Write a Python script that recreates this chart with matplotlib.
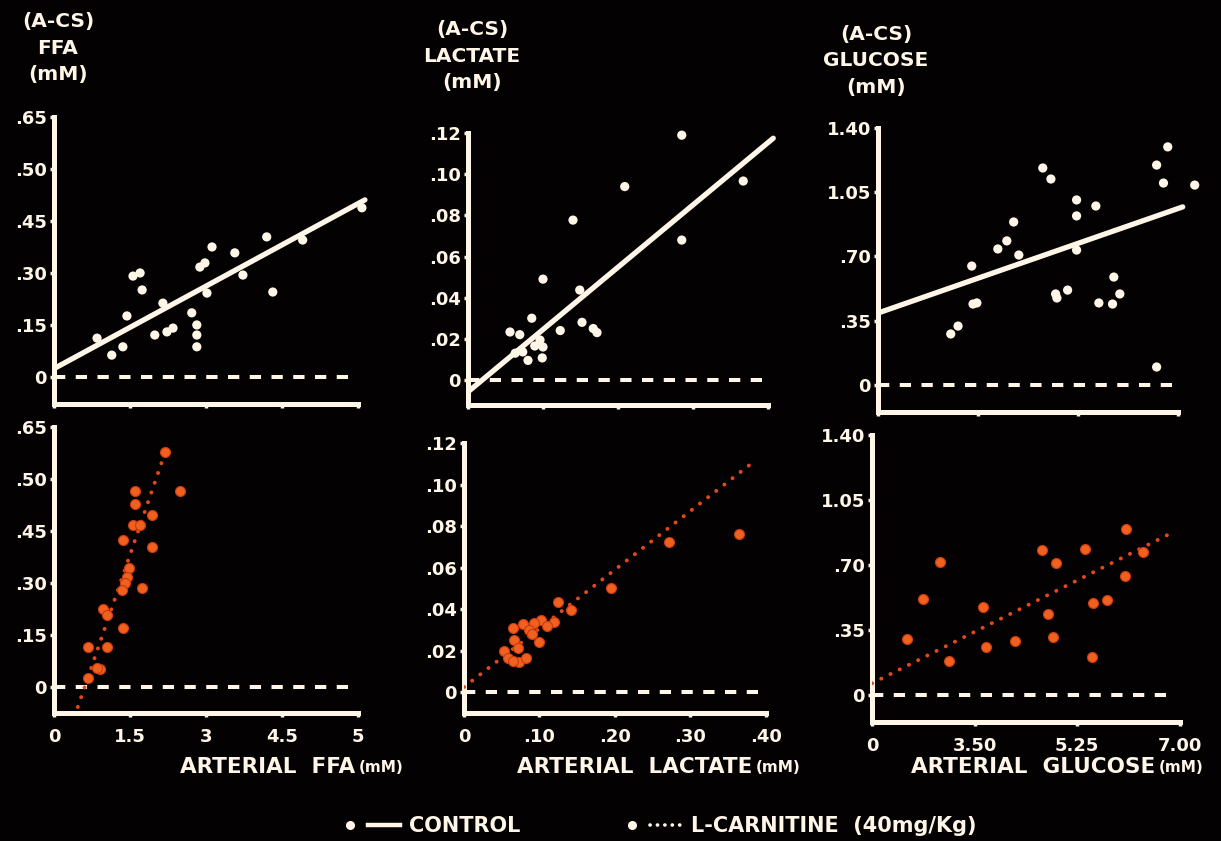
import matplotlib
matplotlib.use('Agg')
import numpy as np
import matplotlib.pyplot as plt
from matplotlib.lines import Line2D
from matplotlib.legend_handler import HandlerTuple

BG = '#030101'
CREAM = '#fff6e8'
ORANGE = '#f0601e'
ORANGE_LINE = '#e4481a'

plt.rcParams['font.family'] = ['DejaVu Sans']
plt.rcParams['font.weight'] = 'bold'

# ---- data (x and y, in axis position units) ----
ffa_ctrl_x = [0.85, 1.14, 1.36, 1.44, 1.56, 1.70, 1.74, 1.99, 2.23, 2.35, 2.15, 2.72, 2.82,
              2.82, 2.82, 2.88, 2.98, 3.02, 3.12, 3.57, 3.73, 4.20, 4.32, 4.91, 6.08]
ffa_ctrl_y = [0.112, 0.063, 0.087, 0.176, 0.291, 0.300, 0.251, 0.121, 0.130, 0.141, 0.213, 0.185, 0.150,
              0.121, 0.087, 0.317, 0.329, 0.242, 0.375, 0.358, 0.294, 0.404, 0.245, 0.395, 0.488]
ffa_carn_x = [2.19, 2.49, 1.60, 1.60, 1.93, 1.56, 1.70, 1.36, 1.93, 1.48, 1.44, 1.40, 1.34,
              1.74, 0.97, 1.05, 1.36, 0.67, 1.05, 0.91, 0.85, 0.67]
ffa_carn_y = [0.678, 0.565, 0.565, 0.528, 0.496, 0.467, 0.467, 0.424, 0.404, 0.343, 0.317, 0.300, 0.280,
              0.286, 0.225, 0.208, 0.170, 0.115, 0.115, 0.052, 0.055, 0.026]

lac_ctrl_x = [0.285, 0.209, 0.367, 0.140, 0.285, 0.100, 0.149, 0.085, 0.056, 0.069, 0.123, 0.152,
              0.167, 0.172, 0.096, 0.100, 0.089, 0.080, 0.099, 0.063, 0.073]
lac_ctrl_y = [0.119, 0.094, 0.0967, 0.0777, 0.068, 0.049, 0.0437, 0.030, 0.0233, 0.022, 0.024, 0.028,
              0.025, 0.023, 0.0194, 0.016, 0.0165, 0.0095, 0.0107, 0.013, 0.0136]
lac_carn_x = [0.364, 0.272, 0.195, 0.124, 0.142, 0.119, 0.102, 0.093, 0.065, 0.078, 0.086, 0.066,
              0.099, 0.053, 0.072, 0.058, 0.073, 0.082, 0.065, 0.110, 0.090]
lac_carn_y = [0.076, 0.0723, 0.050, 0.0434, 0.0395, 0.0337, 0.0347, 0.0333, 0.031, 0.033, 0.030, 0.025,
              0.024, 0.020, 0.021, 0.0164, 0.0145, 0.0164, 0.015, 0.032, 0.028]

glu_ctrl_x = [6.77, 6.51, 6.67, 7.40, 3.85, 4.04, 4.64, 5.09, 4.64, 3.17, 3.01, 2.80, 3.29, 4.64,
              2.19, 2.31, 2.22, 1.87, 1.70, 4.15, 4.18, 4.43, 5.51, 5.65, 5.16, 5.48, 6.51]
glu_ctrl_y = [1.297, 1.198, 1.100, 1.089, 1.182, 1.122, 1.008, 0.975, 0.921, 0.888, 0.785, 0.741, 0.708, 0.735,
              0.648, 0.447, 0.441, 0.321, 0.278, 0.496, 0.474, 0.517, 0.588, 0.496, 0.447, 0.441, 0.098]
glu_carn_x = [0.80, 1.16, 1.55, 1.75, 2.52, 2.59, 3.25, 3.86, 4.18, 4.00, 4.11, 4.84, 5.02, 5.34,
              5.00, 5.77, 5.75, 6.16]
glu_carn_y = [0.302, 0.517, 0.716, 0.183, 0.474, 0.258, 0.291, 0.781, 0.711, 0.436, 0.312, 0.786, 0.495, 0.511,
              0.205, 0.894, 0.641, 0.770]

# regression lines: (intercept, slope, x start, x end)
ctrl_fits = [(0.024, 0.0793, 0.0, 6.14), (-0.0058, 0.303, 0.0, 0.407), (0.392, 0.0812, 0.0, 7.12)]
carn_fits = [(-0.258, 0.426, 0.47, 2.23), (0.0024, 0.283, 0.0, 0.384), (0.063, 0.1187, 0.0, 6.82)]

# ticks
x_ticks = [[0, 1.5, 3, 4.5, 6], [0, 0.1, 0.2, 0.3, 0.4], [0, 7 / 3, 14 / 3, 7]]
x_labels = [['0', '1.5', '3', '4.5', '5'], ['0', '.10', '.20', '.30', '.40'], ['0', '3.50', '5.25', '7.00']]
y_ticks = [[0, 0.15, 0.30, 0.45, 0.60, 0.75], [0, 0.02, 0.04, 0.06, 0.08, 0.10, 0.12], [0, 0.35, 0.70, 1.05, 1.40]]
y_labels = [['0', '.15', '.30', '.45', '.50', '.65'], ['0', '.02', '.04', '.06', '.08', '.10', '.12'],
            ['0', '.35', '.70', '1.05', '1.40']]
titles = ['(A-CS)\nFFA\n(mM)', '(A-CS)\nLACTATE\n(mM)', '(A-CS)\nGLUCOSE\n(mM)']
xnames = ['ARTERIAL  FFA', 'ARTERIAL  LACTATE', 'ARTERIAL  GLUCOSE']

W, H = 1221, 841
fig = plt.figure(figsize=(W / 100, H / 100), dpi=100, facecolor=BG)


def box(left, right, top, bottom):
    return [left / W, 1 - bottom / H, (right - left) / W, (bottom - top) / H]


# pixel boxes and limits for each panel [col][row]
boxes = [[box(54, 368, 113.5, 404), box(54, 368, 423.5, 713)],
         [box(468, 783, 129, 405), box(464, 781, 439, 713)],
         [box(878, 1199, 124.3, 412), box(872, 1193, 431, 722)]]
xlims = [[(0, 6.2), (0, 6.2)], [(0, 0.42), (0, 0.42)], [(0, 7.5), (0, 7.3)]]
ylims = [[(-0.078, 0.76), (-0.075, 0.76)], [(-0.0122, 0.122), (-0.0101, 0.122)],
         [(-0.147, 1.42), (-0.145, 1.42)]]

data = [[(ffa_ctrl_x, ffa_ctrl_y), (ffa_carn_x, ffa_carn_y)],
        [(lac_ctrl_x, lac_ctrl_y), (lac_carn_x, lac_carn_y)],
        [(glu_ctrl_x, glu_ctrl_y), (glu_carn_x, glu_carn_y)]]
fits = [ctrl_fits, carn_fits]

for c in range(3):
    for r in range(2):
        ax = fig.add_axes(boxes[c][r])
        ax.set_facecolor('none')
        ax.set_xlim(*xlims[c][r])
        ax.set_ylim(*ylims[c][r])
        for s in ['top', 'right']:
            ax.spines[s].set_visible(False)
        for s in ['left', 'bottom']:
            ax.spines[s].set_color(CREAM)
            ax.spines[s].set_linewidth(3.6)
            ax.spines[s].set_capstyle('projecting')
        ax.spines['left'].set_bounds(ylims[c][r][0], y_ticks[c][-1])
        ax.spines['bottom'].set_bounds(0, x_ticks[c][-1])
        ax.set_xticks(x_ticks[c])
        ax.set_yticks(y_ticks[c])
        ax.set_yticklabels(y_labels[c])
        if r == 1:
            ax.set_xticklabels(x_labels[c])
        else:
            ax.set_xticklabels([])
        ax.tick_params(colors=CREAM, length=3, width=2.5, labelsize=13, pad=2)
        ax.tick_params(axis='x', pad=8)

        # zero reference
        ax.hlines(0, 0, x_ticks[c][-1] * 0.98, colors=CREAM, lw=2.9,
                  linestyles=(0, (2.8, 2.6)))

        xs, ys = data[c][r]
        b, m, x0, x1 = fits[r][c]
        lx = np.array([x0, x1])
        if r == 0:
            ax.plot(lx, b + m * lx, color=CREAM, lw=3.8, solid_capstyle='round', zorder=3)
            ax.scatter(xs, ys, s=44, color=CREAM, edgecolors='none', zorder=4, clip_on=False)
        else:
            ax.plot(lx, b + m * lx, color=ORANGE_LINE, lw=2.8, dash_capstyle='round',
                    dashes=(0.05, 2.6), zorder=3)
            ax.scatter(xs, ys, s=52, color=ORANGE, edgecolors='#c83a10', linewidths=0.8,
                       zorder=4, clip_on=False)

# titles
for (cx, cy, t) in zip([58, 472, 876], [48, 56, 61], titles):
    fig.text(cx / W, 1 - cy / H, t, ha='center', va='center', color=CREAM,
             fontsize=14.5, fontweight='bold', linespacing=1.5)

# x axis names
for (xr, name) in zip([355, 752, 1155], xnames):
    fig.text(xr / W, 1 - 767 / H, name, ha='right', va='center', color=CREAM,
             fontsize=15.5, fontweight='bold')
    fig.text((xr + 4) / W, 1 - 768 / H, '(mM)', ha='left', va='center', color=CREAM,
             fontsize=11, fontweight='bold')

# legend
dot = Line2D([], [], marker='o', ls='none', color=CREAM, markersize=5.5)
solid = Line2D([], [], color=CREAM, lw=3.2)
dotted = Line2D([], [], color=CREAM, lw=2.6, dashes=(0.05, 2.0), dash_capstyle='round')
leg = fig.legend([(dot, solid), (dot, dotted)], ['CONTROL', 'L-CARNITINE  (40mg/Kg)'],
                 handler_map={tuple: HandlerTuple(ndivide=None, pad=0.1)},
                 loc='center', bbox_to_anchor=(655 / W, 1 - 826 / H), ncol=2, frameon=False,
                 handlelength=3.2, handletextpad=0.4, columnspacing=4.6,
                 prop={'size': 15, 'weight': 'bold'})
for t in leg.get_texts():
    t.set_color(CREAM)

fig.savefig('out.png', dpi=100, facecolor=BG)
